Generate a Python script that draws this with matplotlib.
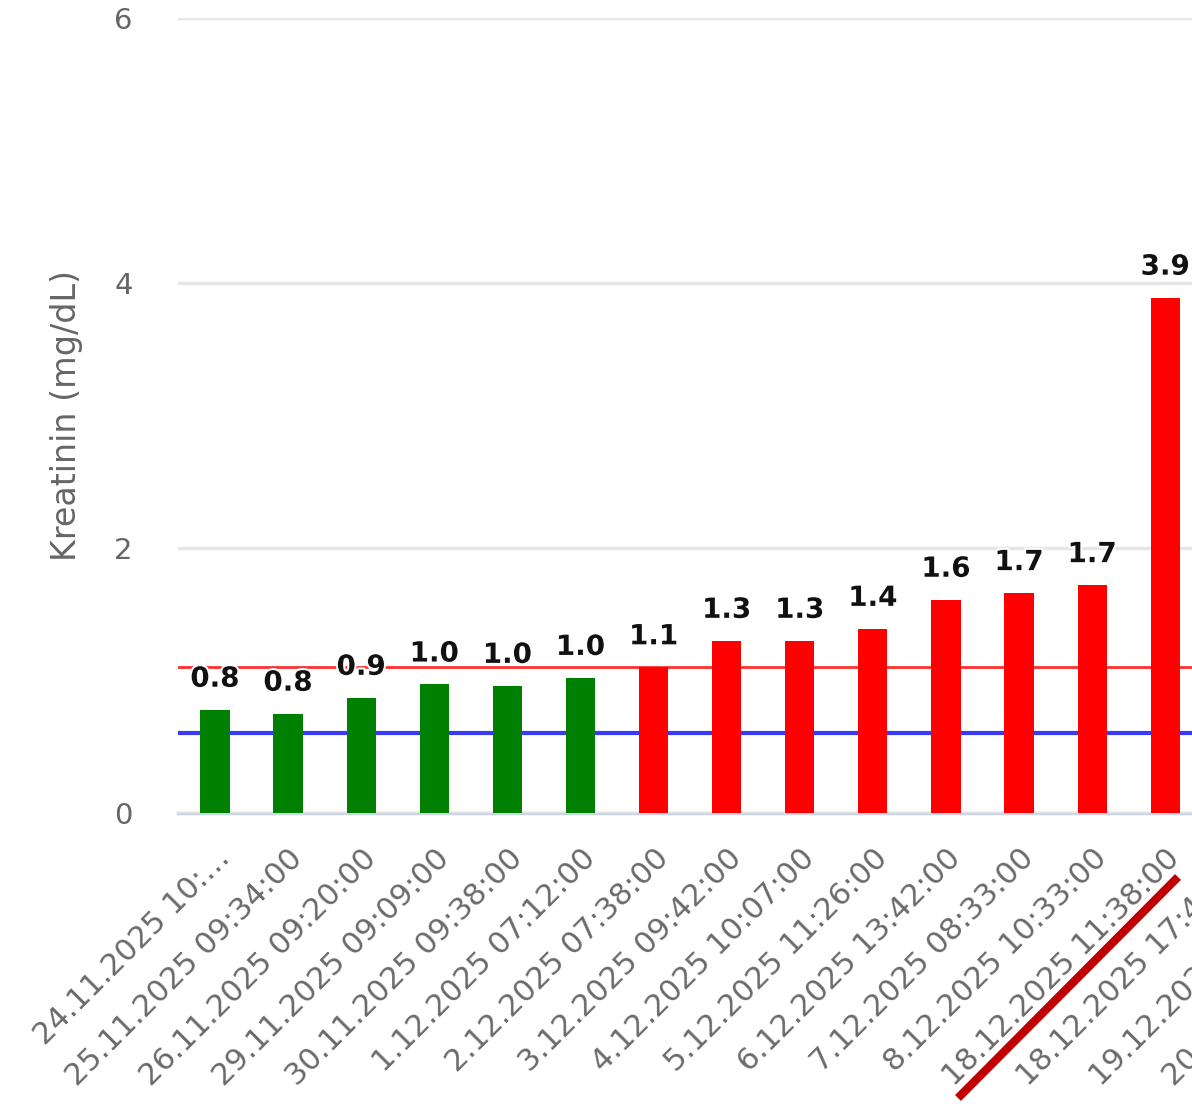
import matplotlib.pyplot as plt
import matplotlib.patheffects as pe
from matplotlib.lines import Line2D

# Даты измерений (подписи оси X)
dates = [
    "24.11.2025 10:…",
    "25.11.2025 09:34:00",
    "26.11.2025 09:20:00",
    "29.11.2025 09:09:00",
    "30.11.2025 09:38:00",
    "1.12.2025 07:12:00",
    "2.12.2025 07:38:00",
    "3.12.2025 09:42:00",
    "4.12.2025 10:07:00",
    "5.12.2025 11:26:00",
    "6.12.2025 13:42:00",
    "7.12.2025 08:33:00",
    "8.12.2025 10:33:00",
    "18.12.2025 11:38:00",
    "18.12.2025 17:43:00",
    "19.12.2025 08:05:00",
    "20.12.2025 08:10:00",
]

# Креатинин, мг/дл
values = [0.78, 0.75, 0.87, 0.97, 0.96, 1.02, 1.10, 1.30, 1.30, 1.39, 1.61, 1.66, 1.72, 3.89]

# Границы нормы
upper_norm = 1.1
lower_norm = 0.6

yticks = [0, 2, 4, 6]

fig = plt.figure(figsize=(11.92, 11.04), dpi=100)
# ось шире рисунка - правый край графика обрезан
ax = fig.add_axes([0.1497, 0.2636, 1.0425, 0.7201])

colors = ['#ff0000' if v >= upper_norm else '#008000' for v in values]
x = list(range(len(values)))
ax.bar(x, values, width=0.4, color=colors, zorder=3)

# линии нормы
ax.axhline(upper_norm, color='#ff3030', lw=2, zorder=2)
ax.axhline(lower_norm, color='#3a3aff', lw=3, zorder=2)

# подписи значений над столбцами
for xi, v in zip(x, values):
    ax.annotate(f"{v:.1f}", (xi, v), xytext=(0, 16.5), textcoords='offset points',
                ha='center', va='baseline', fontsize=20, fontweight='bold', color='#111111',
                path_effects=[pe.withStroke(linewidth=3, foreground='white')], zorder=4)

ax.set_xlim(-0.5, len(dates) - 0.5)
ax.set_ylim(0, 6)
ax.set_yticks(yticks)
ax.set_yticklabels([str(t) for t in yticks], fontsize=21, color='#666666')
ax.set_xticks(range(len(dates)))
ax.set_xticklabels(dates, rotation=45, ha='right', rotation_mode='anchor',
                   fontsize=22, color='#6a6a6a')
ax.tick_params(axis='y', length=0, pad=33)
ax.tick_params(axis='x', length=0, pad=22)

ax.grid(axis='y', color='#e6e6e6', lw=2.5, zorder=0)
for s in ['top', 'right', 'left']:
    ax.spines[s].set_visible(False)
ax.spines['bottom'].set_color('#ccd6eb')
ax.spines['bottom'].set_linewidth(2.5)
ax.spines['bottom'].set_zorder(1)

ax.set_ylabel('Kreatinin (mg/dL)', fontsize=24, color='#666666')
ax.yaxis.set_label_coords(-0.077, 0.5)

# красная отметка поверх подписей
fig.add_artist(Line2D([958 / 1192, 1178 / 1192], [1 - 1098 / 1104, 1 - 877 / 1104],
                      transform=fig.transFigure, color='#c00000', lw=6,
                      solid_capstyle='butt'))

plt.savefig('out.png', dpi=100)
